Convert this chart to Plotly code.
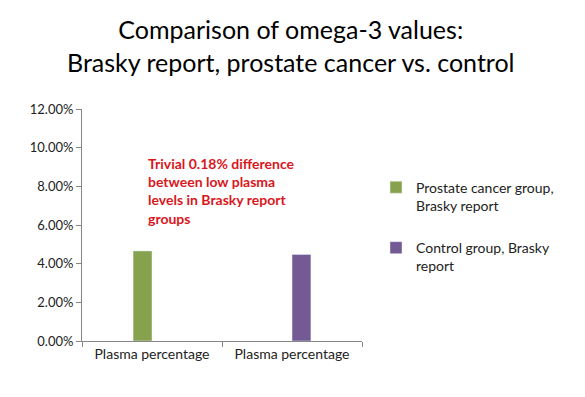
import plotly.graph_objects as go

categories = ["cat1", "cat2"]
category_labels = ["Plasma percentage", "Plasma percentage"]
series_names = ["Prostate cancer group,<br>Brasky report", "Control group, Brasky<br>report"]
prostate_values = [0.0466, None]
control_values = [None, 0.0448]
colors = ["#87a24c", "#745a94"]
annotation_text = "Trivial 0.18% difference<br>between low plasma<br>levels in Brasky report<br>groups"
title_text = "Comparison of omega-3 values:<br>Brasky report, prostate cancer vs. control"

fig = go.Figure()
fig.add_trace(go.Bar(x=categories, y=prostate_values, name=series_names[0],
                     marker_color=colors[0], legendgroup="a"))
fig.add_trace(go.Bar(x=categories, y=control_values, name=series_names[1],
                     marker_color=colors[1], legendgroup="b"))

font_family = "Lato, Open Sans, sans-serif"
fig.update_layout(
    width=577, height=389,
    margin=dict(l=74, r=223, t=101, b=56),
    paper_bgcolor="white", plot_bgcolor="white",
    barmode="group", bargap=0.73, bargroupgap=0,
    font=dict(family=font_family, size=12, color="#222"),
    showlegend=True,
    legend=dict(x=1.05, xanchor="left", y=0.73, yanchor="top", valign="top",
                tracegroupgap=21, traceorder="grouped",
                font=dict(family=font_family, size=14, color="#222")),
    annotations=[
        dict(text=title_text, xref="paper", yref="paper", x=0.746, y=1.418,
             xanchor="center", yanchor="top", align="center", showarrow=False,
             font=dict(family=font_family, size=25, color="#000")),
        dict(text=annotation_text, xref="paper", yref="paper",
             x=0.23, y=0.81, xanchor="left", yanchor="top", align="left",
             showarrow=False,
             font=dict(family=font_family, size=14, color="#d9161c", weight="bold"))],
)
fig.update_xaxes(type="category", tickvals=categories, ticktext=category_labels,
                 tickson="boundaries", ticks="outside", ticklen=5, tickcolor="#868686",
                 showline=True, linecolor="#868686", linewidth=1, showgrid=False,
                 tickfont=dict(size=14, color="#222"))
fig.update_yaxes(range=[0, 0.12], dtick=0.02, tickformat=".2%",
                 ticks="outside", ticklen=5, tickcolor="#868686",
                 showline=True, linecolor="#868686", linewidth=1, showgrid=False,
                 zeroline=False, tickfont=dict(size=13, color="#222"))

fig.write_html("out.html")
